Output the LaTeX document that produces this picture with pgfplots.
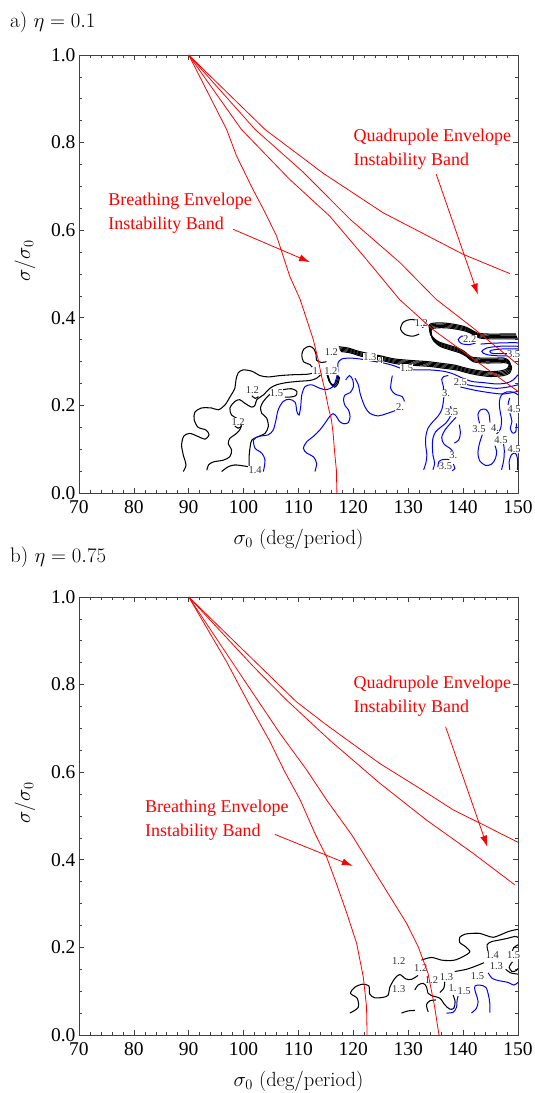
\documentclass[border=0pt]{standalone}
\usepackage{fontspec}
\newfontfamily\tnr{Liberation Serif}
\usepackage{pgfplots}
\usepackage{pgfplotstable}
\pgfplotsset{compat=1.18}
\usetikzlibrary{arrows.meta}

\pgfplotstableread{
x y
117.7 0.323
119.4 0.320
121.2 0.313
123.6 0.306
125.4 0.302
127.9 0.295
131.5 0.291
133.9 0.289
136.4 0.285
138.8 0.281
140.6 0.275
142.4 0.270
144.9 0.266
147.3 0.268
148.5 0.274
148.8 0.289
147.9 0.297
146.1 0.297
143.7 0.297
141.8 0.300
140.6 0.312
139.4 0.320
137.6 0.327
135.8 0.335
134.5 0.350
134.2 0.373
135.2 0.377
137.0 0.377
138.8 0.374
140.6 0.369
141.8 0.362
143.0 0.354
144.9 0.352
147.3 0.352
150.0 0.352
}\bundle

\pgfplotstableread{
x y
115.1 0.274
115.6 0.255
116.3 0.247
116.9 0.255
117.2 0.270
}\tight

\pgfplotsset{
  panel/.style={
    width=439pt, height=438pt, scale only axis,
    anchor=south west,
    xmin=70, xmax=150, ymin=0, ymax=1,
    xtick={70,80,...,150}, ytick={0,0.2,0.4,0.6,0.8,1},
    minor x tick num=4, minor y tick num=3,
    tick align=inside,
    major tick length=5pt, minor tick length=3pt,
    axis line style={black!75, line width=0.9pt},
    every tick/.style={black!75, line width=0.6pt},
    /pgf/number format/assume math mode=true,
    ticklabel style={font=\tnr\fontsize{19.5}{20}\selectfont},
    yticklabel style={/pgf/number format/.cd, fixed, fixed zerofill, precision=1},
    xticklabel style={yshift=-4pt},
    xlabel={$\sigma_0$ (deg/period)},
    ylabel={$\sigma/\sigma_0$},
    label style={font=\fontsize{20.5}{23}\selectfont},
    xlabel style={at={(axis description cs:0.5,-0.105)}, anchor=center},
    ylabel style={at={(axis description cs:-0.123,0.53)}, anchor=center},
    clip=false,
    no markers,
  },
  cb/.style={black, line width=1.05pt, smooth, tension=0.5},
  cu/.style={blue, line width=1.0pt, smooth, tension=0.5},
  rl/.style={red, line width=0.8pt},
  ra/.style={red, line width=0.8pt, -{Latex[length=11pt,width=7pt]}},
}
\tikzset{
  cl/.style={font=\tnr\fontsize{10.5}{11}\selectfont, fill=white, inner sep=0.3pt, text=black!80},
  rt/.style={anchor=west, align=left, red, font=\tnr\fontsize{18}{24}\selectfont, inner sep=0pt},
}

\begin{document}
\begin{tikzpicture}
%================ panel a =================
\begin{axis}[panel, at={(0pt,542pt)}]
% black contours
\addplot[cb] coordinates {(89.0,0.049) (89.5,0.064) (89.0,0.087) (88.7,0.110) (89.1,0.130) (90.2,0.136) (91.7,0.129) (93.0,0.123) (93.7,0.133) (93.1,0.144) (91.7,0.150) (91.0,0.167) (91.1,0.184) (92.3,0.194) (94.2,0.194) (95.4,0.190) (96.6,0.201) (97.5,0.219) (98.4,0.239) (98.6,0.258) (99.0,0.274) (99.9,0.281) (101.5,0.278) (103.0,0.268) (104.5,0.265) (106.6,0.268) (109.0,0.270) (111.5,0.271) (112.6,0.274) (112.8,0.281) (112.1,0.293) (110.9,0.300) (110.6,0.316) (111.0,0.329) (112.0,0.335) (112.8,0.329) (113.2,0.316) (113.3,0.303) (114.2,0.298) (115.1,0.300)};
\addplot[cb] coordinates {(93.3,0.052) (93.6,0.064) (94.5,0.071) (96.3,0.075) (97.5,0.083) (97.8,0.098) (97.2,0.113) (97.5,0.125) (98.4,0.133) (99.3,0.144) (99.6,0.159) (98.7,0.171) (97.8,0.178) (97.5,0.194) (98.4,0.209) (99.3,0.213) (100.2,0.205) (101.5,0.196) (102.1,0.201) (102.4,0.213) (103.6,0.224) (104.8,0.239) (106.0,0.247) (107.8,0.252) (110.0,0.255) (112.1,0.257) (113.3,0.262) (114.2,0.272)};
\addplot[cb] coordinates {(96.0,0.049) (97.2,0.060) (98.4,0.064) (99.9,0.062) (100.9,0.060)};
\addplot[cb] coordinates {(101.0,0.056) (101.0,0.083) (101.2,0.106) (101.5,0.121) (102.7,0.129) (103.9,0.136) (104.5,0.152) (104.2,0.171) (103.3,0.182) (103.1,0.196) (103.6,0.209) (104.5,0.222) (105.1,0.228)};
\addplot[cb] coordinates {(107.2,0.236) (108.7,0.238) (109.7,0.232) (109.5,0.222) (108.4,0.219) (107.5,0.219)};
\addplot[cb] coordinates {(101.5,0.222) (102.1,0.216) (102.7,0.220)};
\addplot[cb] coordinates {(98.4,0.153) (99.0,0.148) (99.6,0.152)};
\addplot[cb] table {\tight};
\addplot[cb, xshift=0.8pt, yshift=-1.2pt] table {\tight};
\addplot[cb, xshift=1.6pt, yshift=-2.4pt] table {\tight};
\addplot[cb] coordinates {(132.7,0.377) (132.0,0.392) (130.4,0.396) (129.1,0.390) (128.6,0.374) (129.4,0.362) (130.8,0.358) (132.0,0.363)};
\addplot[cb] table {\bundle};
\addplot[cb, xshift=-0.5pt, yshift=1.2pt] table {\bundle};
\addplot[cb, xshift=-1.0pt, yshift=2.4pt] table {\bundle};
\addplot[cb, xshift=-1.5pt, yshift=3.6pt] table {\bundle};
\addplot[cb, xshift=-2.0pt, yshift=4.8pt] table {\bundle};
% blue contours
\addplot[cu] coordinates {(103.6,0.049) (103.9,0.075) (103.3,0.091) (102.1,0.102) (101.8,0.121) (102.7,0.129) (104.5,0.133) (105.4,0.144) (105.9,0.167) (106.3,0.190) (107.2,0.209) (108.3,0.214) (109.4,0.207) (109.7,0.186) (110.1,0.178) (110.4,0.197) (110.6,0.224) (111.2,0.243) (112.4,0.247) (113.9,0.239) (115.1,0.236) (116.3,0.243) (116.9,0.262) (117.2,0.281) (117.2,0.297) (117.9,0.306) (119.4,0.308) (121.2,0.306) (123.0,0.302) (125.4,0.297) (127.3,0.291) (129.1,0.283) (131.5,0.281) (133.9,0.281) (136.4,0.278) (138.2,0.272) (139.4,0.265) (141.5,0.255) (143.7,0.252) (146.1,0.249) (147.9,0.251) (149.1,0.258) (150.0,0.270)};
\addplot[cu] coordinates {(138.5,0.255) (141.2,0.246) (143.7,0.242) (146.1,0.239) (148.2,0.242) (150.0,0.247)};
\addplot[cu] coordinates {(139.5,0.242) (142.4,0.234) (144.9,0.229) (147.3,0.226) (150.0,0.232)};
\addplot[cu] coordinates {(113.0,0.049) (113.3,0.068) (112.7,0.083) (111.5,0.091) (110.9,0.102) (111.5,0.117) (112.7,0.129) (113.9,0.144) (114.8,0.159) (115.7,0.175) (116.3,0.181) (116.9,0.175) (117.5,0.163) (118.3,0.158) (119.1,0.161) (119.4,0.175) (119.1,0.190) (118.5,0.199) (118.2,0.213) (118.5,0.224) (119.4,0.229) (120.0,0.242) (119.9,0.258) (119.3,0.268) (118.6,0.258)};
\addplot[cu] coordinates {(120.3,0.262) (120.9,0.247) (121.3,0.224) (122.1,0.197) (123.0,0.182) (124.5,0.176) (126.0,0.181) (127.6,0.188)};
\addplot[cu] coordinates {(127.1,0.268) (126.8,0.239) (127.6,0.226) (128.9,0.220) (129.3,0.209)};
\addplot[cu] coordinates {(132.8,0.053) (133.2,0.068) (133.4,0.087) (133.2,0.106) (133.2,0.129) (133.6,0.148) (134.5,0.163) (135.4,0.175) (136.1,0.190) (136.4,0.209) (136.5,0.224) (136.4,0.243) (136.1,0.259) (136.5,0.266) (137.3,0.268)};
\addplot[cu] coordinates {(134.5,0.053) (134.8,0.068) (134.5,0.087) (134.4,0.106) (134.5,0.125) (135.0,0.140) (135.9,0.150) (136.8,0.159) (137.5,0.171) (137.9,0.184) (137.7,0.198)};
\addplot[cu] coordinates {(138.7,0.173) (137.7,0.159) (136.7,0.144) (136.1,0.127) (136.5,0.112) (137.7,0.101) (138.3,0.092)};
\addplot[cu] coordinates {(139.3,0.156) (139.5,0.137) (139.2,0.121) (138.4,0.114)};
\addplot[cu] coordinates {(135.4,0.059) (135.6,0.072) (136.5,0.077) (137.5,0.076)};
\addplot[cu] coordinates {(138.2,0.066) (138.5,0.056) (138.0,0.051)};
\addplot[cu] coordinates {(143.5,0.133) (143.0,0.114) (142.7,0.092) (143.0,0.074) (144.1,0.063) (145.2,0.066) (145.9,0.079) (146.1,0.095) (145.8,0.108)};
\addplot[cu] coordinates {(143.0,0.159) (142.7,0.179) (143.2,0.190) (144.1,0.191) (144.7,0.181) (144.9,0.161)};
\addplot[cu] coordinates {(146.1,0.135) (146.8,0.146) (147.0,0.167) (146.7,0.190) (146.6,0.209) (147.0,0.224) (148.0,0.231) (149.2,0.230) (150.0,0.224)};
\addplot[cu] coordinates {(147.3,0.117) (147.5,0.098) (147.4,0.075) (147.0,0.053)};
\addplot[cu] coordinates {(148.5,0.217) (148.2,0.201) (148.6,0.179) (148.9,0.163) (148.6,0.148) (149.0,0.137) (149.6,0.140) (149.7,0.159)};
\addplot[cu] coordinates {(148.5,0.053) (148.4,0.072) (148.8,0.087) (149.5,0.091) (149.9,0.079) (149.9,0.053)};
\addplot[cu] coordinates {(139.7,0.358) (139.1,0.350) (139.7,0.341) (141.2,0.339) (142.4,0.344) (142.3,0.354) (141.5,0.359) (139.7,0.358)};
\addplot[cu] coordinates {(150.0,0.335) (146.7,0.335) (144.3,0.331) (143.4,0.323) (144.3,0.316) (146.7,0.313) (150.0,0.313)};
\addplot[cu] coordinates {(150.0,0.329) (147.3,0.329) (145.2,0.326) (144.9,0.322) (145.8,0.318) (150.0,0.319)};
\addplot[cu] coordinates {(143.2,0.340) (145.5,0.342) (148.0,0.343) (150.0,0.343)};
% contour labels
\node[cl] at (axis cs:132.4,0.387) {1.2};
\node[cl] at (axis cs:141.2,0.352) {2.2};
\node[cl] at (axis cs:149.2,0.316) {3.5};
\node[cl] at (axis cs:116.0,0.322) {1.2};
\node[cl] at (axis cs:123.0,0.310) {1.3};
\node[cl] at (axis cs:124.95,0.303) {4};
\node[cl] at (axis cs:129.7,0.285) {1.5};
\node[cl] at (axis cs:113.3,0.278) {1.};
\node[cl] at (axis cs:115.9,0.278) {1.2};
\node[cl] at (axis cs:101.6,0.234) {1.2};
\node[cl] at (axis cs:106.0,0.229) {1.5};
\node[cl] at (axis cs:99.0,0.163) {1.2};
\node[cl] at (axis cs:102.1,0.052) {1.4};
\node[cl] at (axis cs:128.5,0.196) {2.};
\node[cl] at (axis cs:139.5,0.253) {2.5};
\node[cl] at (axis cs:136.9,0.227) {3.};
\node[cl] at (axis cs:137.9,0.184) {3.5};
\node[cl] at (axis cs:138.2,0.087) {3.};
\node[cl] at (axis cs:136.8,0.062) {3.5};
\node[cl] at (axis cs:142.9,0.146) {3.5};
\node[cl] at (axis cs:145.8,0.149) {4.};
\node[cl] at (axis cs:146.9,0.121) {4.5};
\node[cl] at (axis cs:149.3,0.192) {4.5};
\node[cl] at (axis cs:149.3,0.101) {4.5};
% red lines
\addplot[rl] coordinates {(90,1) (96.9,0.83) (98.7,0.77) (101.7,0.693) (103.6,0.648) (106.0,0.587) (107.2,0.541) (108.4,0.495) (110.3,0.442) (111.5,0.396) (112.7,0.35) (113.6,0.304) (114.2,0.266) (114.8,0.236) (115.4,0.198) (116.0,0.167) (116.3,0.137) (116.6,0.091) (116.9,0.053) (117.0,0)};
\addplot[rl] coordinates {(90,1) (99.6,0.83) (108.4,0.716) (115.7,0.632) (122.4,0.533) (128.4,0.442) (134.5,0.373) (150,0.232)};
\addplot[rl] coordinates {(90,1) (102.1,0.83) (110.9,0.732) (119.4,0.625) (128.5,0.526) (135.1,0.442) (141.8,0.377) (150,0.293)};
\addplot[rl] coordinates {(90,1) (103.9,0.83) (114.5,0.73) (125.4,0.64) (140.0,0.545) (148.5,0.501)};
\addplot[ra] coordinates {(98.1,0.602) (112.1,0.527)};
\addplot[ra] coordinates {(135.1,0.728) (142.7,0.453)};
\node[rt] at (axis cs:75.3,0.638) {Breathing Envelope\\Instability Band};
\node[rt] at (axis cs:120.0,0.784) {Quadrupole Envelope\\Instability Band};
\end{axis}

%================ panel b =================
\begin{axis}[panel, at={(0pt,0pt)}]
\addplot[cb] coordinates {(119.36,0.050) (120.88,0.063) (120.69,0.084) (119.48,0.095) (120.27,0.109) (121.66,0.116) (122.82,0.112) (123.00,0.093) (123.91,0.085) (125.43,0.086) (126.34,0.091) (126.64,0.109) (127.55,0.129) (128.46,0.138) (129.56,0.128) (130.59,0.127) (131.80,0.136)};
\addplot[cb] coordinates {(132.41,0.171) (134.23,0.177) (136.05,0.171) (137.27,0.170) (138.48,0.171) (140.00,0.179) (141.22,0.190) (140.30,0.203) (139.39,0.211) (139.39,0.223) (140.30,0.230) (141.52,0.232) (143.04,0.232) (144.25,0.227) (145.47,0.223) (146.68,0.228) (148.20,0.236) (149.41,0.240) (150.0,0.241)};
\addplot[cb] coordinates {(144.55,0.190) (144.37,0.206) (145.16,0.213) (146.68,0.217) (148.20,0.221) (149.41,0.225) (150.0,0.223)};
\addplot[cb] coordinates {(150.0,0.206) (149.2,0.199) (148.9,0.188)};
\addplot[cb] coordinates {(149.0,0.167) (148.4,0.155) (148.9,0.145) (149.7,0.147) (150.0,0.152)};
\addplot[cb] coordinates {(138.48,0.145) (140.61,0.150) (142.43,0.158) (143.77,0.165)};
\addplot[cb] coordinates {(147.77,0.150) (148.62,0.142) (150.0,0.139)};
\addplot[cb] coordinates {(131.20,0.103) (131.80,0.114) (132.72,0.118) (133.32,0.110) (133.63,0.095) (134.23,0.090) (135.75,0.084) (136.66,0.069) (137.57,0.059) (138.30,0.061) (138.54,0.076) (138.18,0.091)};
\addplot[cb] coordinates {(136.66,0.122) (136.48,0.107) (135.75,0.097)};
\addplot[cb] coordinates {(128.77,0.050) (129.98,0.055) (131.20,0.056)};
\addplot[cb] coordinates {(133.63,0.053) (133.32,0.069) (133.93,0.078) (135.02,0.080)};
\addplot[cu] coordinates {(136.97,0.050) (138.18,0.052) (138.79,0.063) (138.91,0.080) (139.09,0.089)};
\addplot[cu] coordinates {(141.52,0.050) (142.43,0.061) (142.73,0.076) (142.43,0.091) (142.13,0.103) (142.19,0.112) (143.04,0.114) (144.13,0.109) (144.62,0.091) (144.86,0.072) (144.86,0.051)};
\addplot[cu] coordinates {(144.55,0.142) (145.34,0.129) (146.56,0.124) (148.20,0.120) (149.23,0.114) (150.0,0.120)};
\node[cl] at (axis cs:128.28,0.169) {1.2};
\node[cl] at (axis cs:132.29,0.152) {1.2};
\node[cl] at (axis cs:134.23,0.126) {1.2};
\node[cl] at (axis cs:128.28,0.104) {1.3};
\node[cl] at (axis cs:136.97,0.133) {1.3};
\node[cl] at (axis cs:138.06,0.107) {1.};
\node[cl] at (axis cs:140.18,0.101) {1.5};
\node[cl] at (axis cs:142.61,0.135) {1.5};
\node[cl] at (axis cs:145.34,0.182) {1.4};
\node[cl] at (axis cs:149.2,0.183) {1.5};
\node[cl] at (axis cs:146.07,0.158) {1.3};
\addplot[rl] coordinates {(90,1) (96.9,0.852) (101.1,0.753) (104.8,0.67) (107.5,0.601) (110.3,0.537) (113.0,0.46) (115.1,0.407) (116.9,0.346) (118.8,0.278) (120.6,0.209) (121.8,0.133) (122.4,0.065) (122.5,0)};
\addplot[rl] coordinates {(90,1) (99.9,0.814) (106.6,0.689) (111.5,0.605) (115.1,0.537) (119.7,0.457) (124.8,0.354) (129.7,0.255) (131.8,0.202) (133.6,0.141) (134.8,0.065) (135.6,0)};
\addplot[rl] coordinates {(90,1) (101.8,0.841) (107.8,0.765) (115.7,0.673) (124.8,0.575) (133.3,0.491) (141.8,0.415) (149.4,0.343)};
\addplot[rl] coordinates {(90,1) (101.8,0.856) (109.6,0.761) (115.1,0.708) (124.8,0.62) (132.1,0.563) (138.2,0.514) (144.3,0.476) (150.0,0.44)};
\addplot[ra] coordinates {(105.7,0.458) (119.9,0.386)};
\addplot[ra] coordinates {(136.8,0.704) (144.4,0.43)};
\node[rt] at (axis cs:82.0,0.49) {Breathing Envelope\\Instability Band};
\node[rt] at (axis cs:120.0,0.774) {Quadrupole Envelope\\Instability Band};
\end{axis}

\node[anchor=west, font=\fontsize{21}{24}\selectfont, inner sep=0pt] at (-69pt,1013pt) {a) $\eta=0.1$};
\node[anchor=west, font=\fontsize{21}{24}\selectfont, inner sep=0pt] at (-69pt,478pt) {b) $\eta=0.75$};
\pgfresetboundingbox
\path[use as bounding box] (-79pt,-58pt) rectangle (456pt,1035pt);
\end{tikzpicture}
\end{document}
